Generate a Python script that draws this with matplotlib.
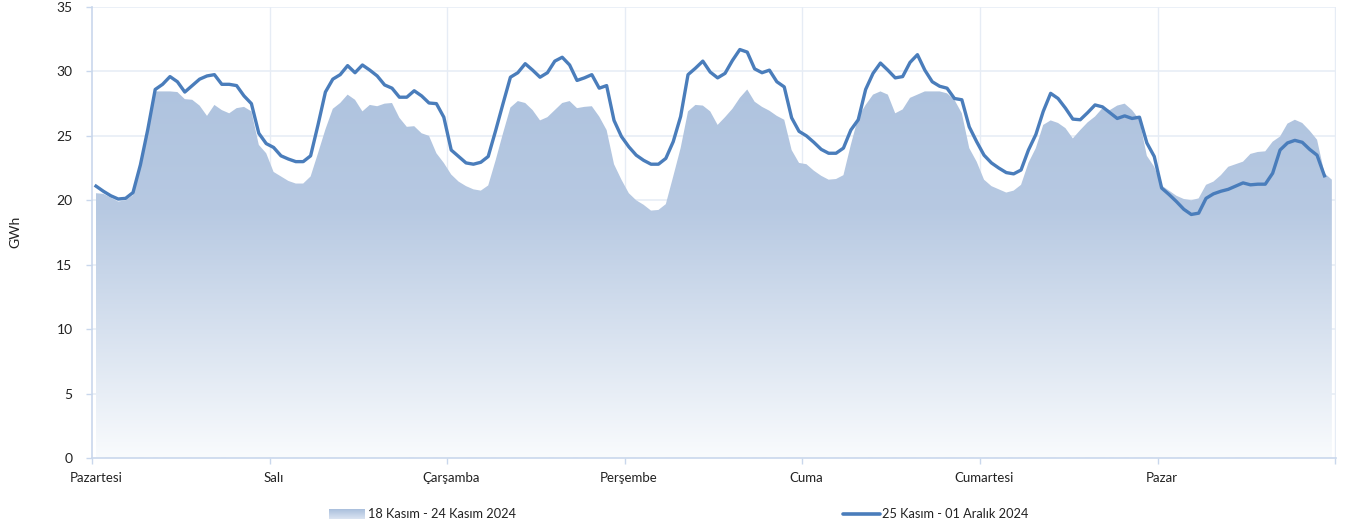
import numpy as np
import matplotlib
matplotlib.use("Agg")
import matplotlib.pyplot as plt
from matplotlib.colors import LinearSegmentedColormap
from matplotlib.lines import Line2D

plt.rcParams['font.family'] = ['Lato', 'DejaVu Sans']

days = ["Pazartesi", "Salı", "Çarşamba", "Perşembe", "Cuma", "Cumartesi", "Pazar"]
label_prev = "18 Kasım - 24 Kasım 2024"
label_curr = "25 Kasım - 01 Aralık 2024"

# previous week (area), hourly GWh
prev_week = [
    20.55, 20.5, 20.2, 19.9, 20.0, 20.4, 22.6, 25.5, 28.45, 28.45, 28.45, 28.4, 27.85, 27.8, 27.35, 26.55, 27.4, 27.0, 26.75, 27.15, 27.25, 26.9, 24.3, 23.65,
    22.2, 21.85, 21.5, 21.3, 21.3, 21.85, 23.65, 25.5, 27.1, 27.55, 28.2, 27.8, 26.9, 27.4, 27.3, 27.5, 27.55, 26.4, 25.7, 25.75, 25.2, 25.0, 23.65, 22.9,
    22.0, 21.45, 21.1, 20.85, 20.75, 21.15, 23.1, 25.2, 27.2, 27.7, 27.55, 27.0, 26.2, 26.45, 27.0, 27.55, 27.7, 27.15, 27.25, 27.3, 26.5, 25.45, 22.8, 21.6,
    20.55, 20.0, 19.65, 19.2, 19.25, 19.7, 21.85, 24.05, 26.9, 27.4, 27.35, 26.9, 25.85, 26.45, 27.1, 27.95, 28.6, 27.65, 27.25, 26.95, 26.55, 26.25, 23.9, 22.9,
    22.8, 22.3, 21.9, 21.6, 21.65, 21.95, 24.3, 26.45, 27.4, 28.2, 28.45, 28.2, 26.75, 27.05, 27.95, 28.2, 28.45, 28.45, 28.45, 28.3, 27.8, 26.75, 24.05, 23.0,
    21.6, 21.1, 20.85, 20.6, 20.75, 21.2, 22.9, 24.05, 25.85, 26.2, 26.0, 25.6, 24.8, 25.45, 26.05, 26.5, 27.15, 27.0, 27.35, 27.5, 27.0, 26.25, 23.45, 22.6,
    21.15, 20.75, 20.35, 20.1, 20.0, 20.15, 21.2, 21.45, 21.95, 22.6, 22.8, 23.0, 23.6, 23.75, 23.8, 24.55, 24.95, 25.95, 26.25, 26.0, 25.4, 24.7, 22.1, 21.6,
]

# current week (line), hourly GWh
curr_week = [
    21.1, 20.7, 20.35, 20.1, 20.15, 20.6, 22.75, 25.5, 28.6, 29.0, 29.6, 29.2, 28.4, 28.9, 29.4, 29.65, 29.75, 29.0, 29.0, 28.9, 28.1, 27.5, 25.2, 24.4,
    24.1, 23.45, 23.2, 23.0, 23.0, 23.45, 25.85, 28.4, 29.4, 29.75, 30.45, 29.9, 30.5, 30.1, 29.65, 28.95, 28.7, 28.0, 28.0, 28.5, 28.1, 27.55, 27.5, 26.45,
    23.9, 23.4, 22.9, 22.8, 22.95, 23.4, 25.4, 27.5, 29.55, 29.9, 30.6, 30.1, 29.55, 29.9, 30.8, 31.1, 30.5, 29.3, 29.5, 29.75, 28.7, 28.9, 26.2, 24.95,
    24.15, 23.5, 23.1, 22.8, 22.8, 23.25, 24.55, 26.5, 29.75, 30.25, 30.8, 29.95, 29.5, 29.85, 30.85, 31.7, 31.5, 30.2, 29.9, 30.1, 29.2, 28.8, 26.4, 25.35,
    25.0, 24.5, 23.95, 23.65, 23.65, 24.05, 25.45, 26.25, 28.6, 29.85, 30.65, 30.1, 29.5, 29.6, 30.7, 31.3, 30.1, 29.2, 28.85, 28.7, 27.9, 27.8, 25.7, 24.55,
    23.5, 22.9, 22.5, 22.15, 22.05, 22.35, 23.9, 25.1, 26.9, 28.3, 27.9, 27.15, 26.3, 26.25, 26.8, 27.4, 27.25, 26.8, 26.35, 26.55, 26.35, 26.45, 24.45, 23.4,
    20.95, 20.45, 19.9, 19.3, 18.9, 19.0, 20.15, 20.5, 20.7, 20.85, 21.1, 21.35, 21.2, 21.25, 21.25, 22.1, 23.9, 24.45, 24.65, 24.5, 23.95, 23.5, 21.9,
]

W, H = 1346, 528
fig = plt.figure(figsize=(W / 100, H / 100), dpi=100)
ax = fig.add_axes([92 / W, (H - 458) / H, (1336 - 92) / W, (458 - 7) / H])

xa = np.arange(len(prev_week))
xl = np.arange(len(curr_week))
ya = np.array(prev_week)

grid_c = '#e6ecf5'
axis_c = '#c9d7ec'

# grid
for v in range(5, 36, 5):
    ax.axhline(v, color=grid_c, lw=1.1, zorder=0)
for k in range(1, 8):
    ax.axvline(24 * k - 0.54, color=grid_c, lw=1.0, zorder=0)

# gradient area
poly = ax.fill_between(xa, ya, 0, facecolor='none', edgecolor='none')
path = poly.get_paths()[0]
grad = np.linspace(0, 1, 256).reshape(-1, 1)
cmap = LinearSegmentedColormap.from_list('g', [(0, '#f9fbfd'), (0.62, '#b7c9e2'), (1.0, '#adc2de')])
top = 31.0
im = ax.imshow(grad, extent=[xa[0], xa[-1], 0, top], origin='lower', aspect='auto',
               cmap=cmap, zorder=1, interpolation='bilinear')
im.set_clip_path(path, transform=ax.transData)

ax.plot(xl, curr_week, color='#4a7dbb', lw=2.4, zorder=3, solid_joinstyle='round')

ax.set_xlim(-0.54, 167.56)
ax.set_ylim(0, 35)

ax.set_yticks(range(0, 36, 5))
ax.set_yticklabels([str(v) for v in range(0, 36, 5)], fontsize=10, color='#222222')
ax.set_xticks([24 * k for k in range(7)])
ax.set_xticklabels(days, fontsize=9.5, color='#222222')
ax.set_xticks([24 * k - 0.54 for k in range(8)], minor=True)
ax.tick_params(axis='x', which='major', length=0, pad=10)
ax.tick_params(axis='x', which='minor', length=4, color=axis_c, width=1)
ax.tick_params(axis='y', length=4, color=axis_c, width=1, pad=10)

for s in ['top', 'right']:
    ax.spines[s].set_visible(False)
ax.spines['left'].set_color(axis_c)
ax.spines['bottom'].set_color(axis_c)
ax.spines['left'].set_linewidth(1.2)
ax.spines['bottom'].set_linewidth(1.2)

fig.text(15 / W, 1 - 232 / H, 'GWh', rotation=90, ha='center', va='center', fontsize=10, color='#222222')

# legend
lax = fig.add_axes([0, 0, 1, 1], facecolor='none')
lax.axis('off')
sw = np.linspace(0, 1, 64).reshape(-1, 1)
lax.imshow(sw, extent=[329, 365, 519, 509], cmap=LinearSegmentedColormap.from_list('s', ['#a9bfdd', '#dbe4f1']),
           aspect='auto', interpolation='bilinear')
lax.set_xlim(0, W)
lax.set_ylim(H, 0)
lax.text(368, 514, label_prev, fontsize=9.2, va='center', ha='left', color='#222222')
lax.add_line(Line2D([843, 880], [514, 514], color='#4a7dbb', lw=2.6, solid_capstyle='round'))
lax.text(882, 514, label_curr, fontsize=9.2, va='center', ha='left', color='#222222')

fig.savefig('out.png', dpi=100)
